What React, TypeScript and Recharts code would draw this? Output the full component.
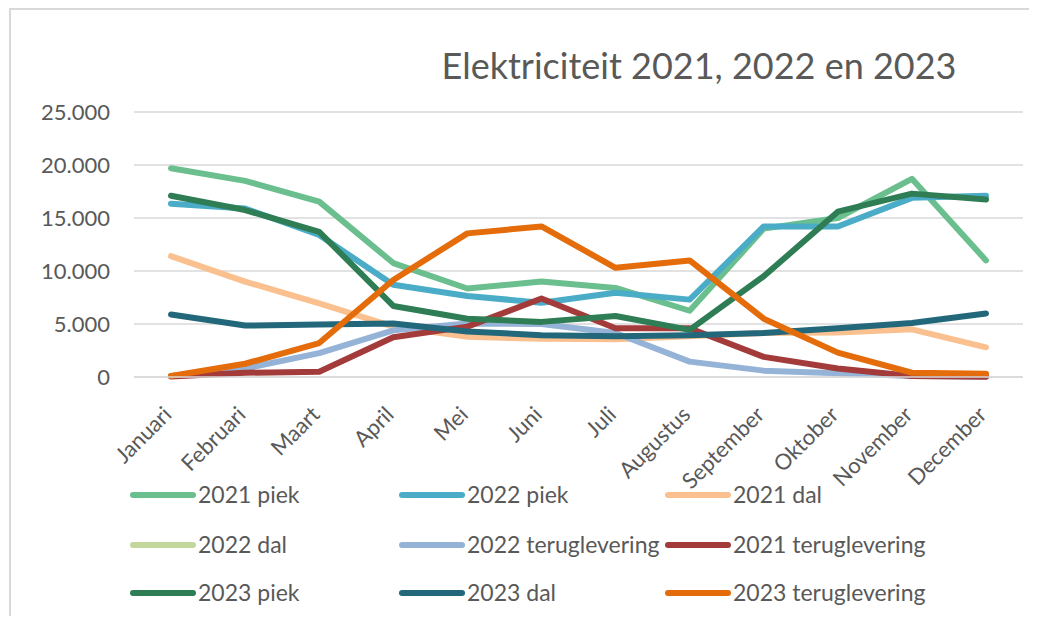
import React from 'react';
import { LineChart, Line, XAxis, YAxis, CartesianGrid } from 'recharts';

const months = ['Januari', 'Februari', 'Maart', 'April', 'Mei', 'Juni', 'Juli', 'Augustus', 'September', 'Oktober', 'November', 'December'];

const piek2021 = [19700, 18500, 16550, 10750, 8350, 9000, 8400, 6250, 14000, 15000, 18700, 11000];
const piek2022 = [16350, 15900, 13400, 8700, 7650, 7000, 7950, 7300, 14200, 14200, 16900, 17100];
const dal2021 = [11400, 9000, 6950, 4750, 3800, 3600, 3550, 3850, 4150, 4200, 4500, 2800];
const dal2022: (number | null)[] = [null, null, null, null, null, null, null, null, null, null, null, null];
const terug2022 = [100, 800, 2250, 4400, 5050, 5000, 4150, 1450, 600, 350, 100, 50];
const terug2021 = [50, 400, 500, 3750, 4750, 7400, 4600, 4600, 1900, 800, 100, 30];
const piek2023 = [17100, 15750, 13700, 6700, 5500, 5200, 5750, 4450, 9500, 15600, 17300, 16750];
const dal2023 = [5900, 4850, 4950, 5050, 4300, 3950, 3850, 3950, 4150, 4600, 5100, 6000];
const terug2023 = [100, 1250, 3200, 9150, 13550, 14200, 10300, 11000, 5500, 2300, 400, 300];

const yTicks = [0, 5000, 10000, 15000, 20000, 25000];

const seriesNames = ['2021 piek', '2022 piek', '2021 dal', '2022 dal', '2022 teruglevering', '2021 teruglevering', '2023 piek', '2023 dal', '2023 teruglevering'];
const seriesValues = [piek2021, piek2022, dal2021, dal2022, terug2022, terug2021, piek2023, dal2023, terug2023];
const seriesColors = ['#6bbf8e', '#4aacc6', '#fac08f', '#c3d69b', '#95b3d7', '#a33b3b', '#2f7d55', '#23677a', '#e46c0a'];

const title = 'Elektriciteit 2021, 2022 en 2023';

const data = months.map((m, i) => {
  const row: Record<string, any> = { month: m };
  seriesNames.forEach((n, s) => {
    row[n] = seriesValues[s][i];
  });
  return row;
});

const FONT = "Lato, 'Open Sans', sans-serif";
const TEXT = '#595959';

const fmt = (v: number) => String(v).replace(/\B(?=(\d{3})+(?!\d))/g, '.');

const XTick = (props: any) => {
  const { x, y, payload } = props;
  return (
    <g transform={`translate(${x + 2},${y + 39})`}>
      <text x={0} y={0} textAnchor="end" transform="rotate(-45)" fill={TEXT} fontSize={22} fontFamily={FONT}>
        {payload.value}
      </text>
    </g>
  );
};

const W = 1021;
const H = 608;

const legendCols = [125, 394, 660];
const legendRows = [487, 537, 585];

export default function App() {
  return (
    <div style={{ position: 'relative', width: W, height: H, overflow: 'hidden', background: '#fff' }}>
      <div
        style={{
          position: 'absolute',
          left: 1,
          top: 0,
          width: W,
          height: H,
          borderTop: '2px solid #d9d9d9',
          borderLeft: '2px solid #d9d9d9',
          boxSizing: 'border-box',
        }}
      />
      <div style={{ position: 'absolute', left: 0, top: 0 }}>
        <LineChart width={W} height={H} data={data} margin={{ top: 104, right: 6, bottom: 139, left: 0 }}>
          <CartesianGrid horizontal vertical={false} stroke="#d9d9d9" strokeWidth={1.5} />
          <XAxis
            dataKey="month"
            interval={0}
            height={100}
            padding={{ left: 37, right: 37 }}
            tickLine={false}
            tickSize={0}
            tickMargin={0}
            axisLine={{ stroke: '#d9d9d9', strokeWidth: 1.5 }}
            tick={<XTick />}
          />
          <YAxis
            width={126}
            domain={[0, 25000]}
            ticks={yTicks}
            interval={0}
            axisLine={false}
            tickLine={false}
            tickSize={0}
            tickMargin={24}
            tickFormatter={fmt}
            tick={{ fill: TEXT, fontSize: 22, fontFamily: FONT }}
          />
          {seriesNames.map((n, i) => (
            <Line
              key={n}
              type="linear"
              dataKey={n}
              stroke={seriesColors[i]}
              strokeWidth={6}
              strokeLinecap="round"
              strokeLinejoin="round"
              dot={false}
              activeDot={false}
              isAnimationActive={false}
            />
          ))}
        </LineChart>
      </div>
      <svg width={W} height={H} style={{ position: 'absolute', left: 0, top: 0, pointerEvents: 'none' }}>
        <text x={691} y={71} textAnchor="middle" fill={TEXT} fontSize={36} fontFamily={FONT}>
          {title}
        </text>
        {seriesNames.map((n, i) => {
          const cx = legendCols[i % 3];
          const cy = legendRows[Math.floor(i / 3)];
          return (
            <g key={n}>
              <line x1={cx} y1={cy} x2={cx + 60} y2={cy} stroke={seriesColors[i]} strokeWidth={6} strokeLinecap="round" />
              <text x={cx + 65} y={cy} dy="0.35em" fill={TEXT} fontSize={23} fontFamily={FONT}>
                {n}
              </text>
            </g>
          );
        })}
      </svg>
    </div>
  );
}
